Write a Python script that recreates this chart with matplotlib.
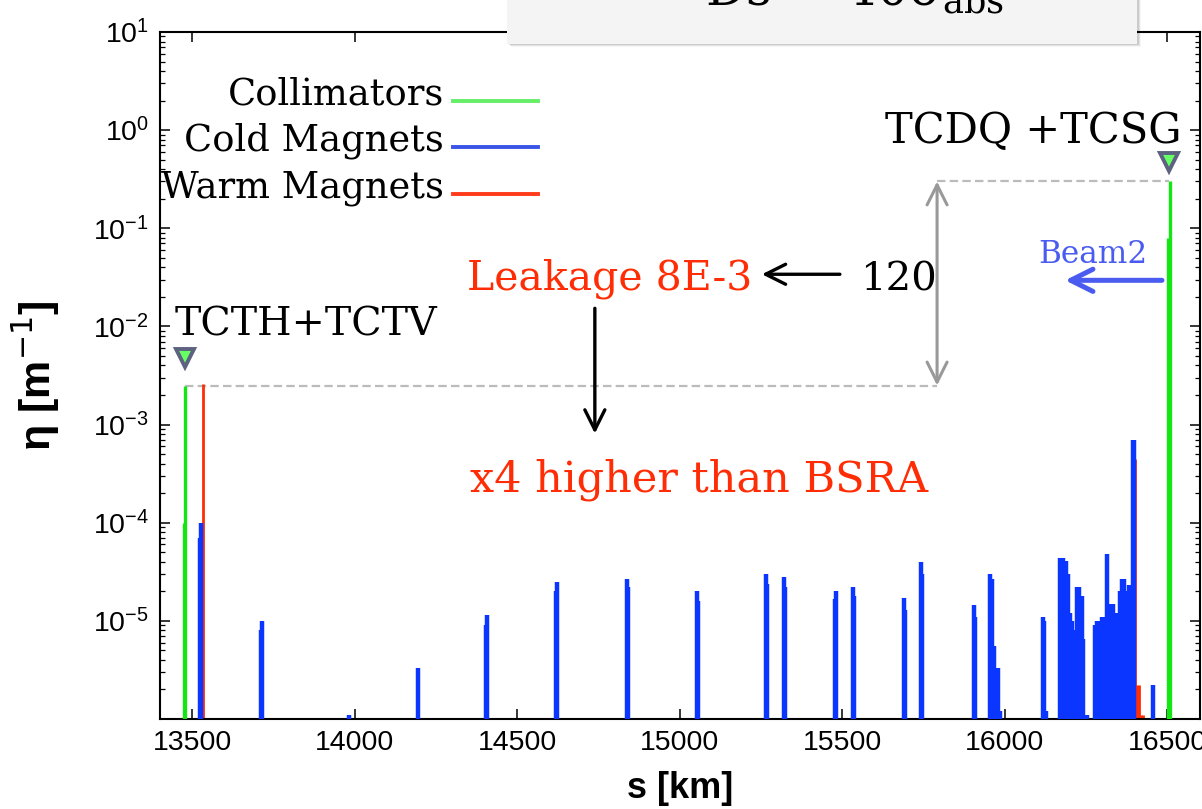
import numpy as np
import matplotlib
matplotlib.use('Agg')
import matplotlib.pyplot as plt
from matplotlib.lines import Line2D
from matplotlib.patches import Rectangle
from matplotlib.legend_handler import HandlerLine2D
from matplotlib.ticker import FixedLocator, LogLocator, NullFormatter, LogFormatterSciNotation

SANS = ['Liberation Sans', 'DejaVu Sans']
SERIF = ['DejaVu Serif']
plt.rcParams['font.family'] = SANS

# loss locations s [km] and local loss rate eta [1/m]
coll_s = [13474, 13478, 16502, 16507]
coll_eta = [1.0e-4, 2.5e-3, 8.0e-2, 3.0e-1]

warm_s = [13533, 16399, 16406, 16412, 16420, 16426]
warm_eta = [2.6e-3, 4.5e-4, 2.2e-6, 2.2e-6, 1.1e-6, 1.1e-6]

cold_s = [13523, 13527, 13712, 13715, 13981, 14194, 14404, 14407,
          14620, 14623, 14836, 14839, 15051, 15054, 15264, 15267,
          15319, 15322, 15478, 15481, 15531, 15534, 15690, 15693,
          15743, 15746, 15906, 15909, 15954, 15960, 15966, 15972,
          15978, 15984, 16116, 16121, 16127,
          16169, 16179, 16187, 16193, 16200, 16207, 16213, 16221,
          16229, 16236, 16241, 16246, 16253,
          16277, 16284, 16292, 16299, 16306, 16313, 16320, 16326,
          16333, 16341, 16347, 16354, 16361, 16367, 16374, 16382,
          16388, 16393, 16398, 16455]
cold_eta = [7e-5, 1.0e-4, 8e-6, 1.0e-5, 1.1e-6, 3.3e-6, 9e-6, 1.15e-5,
            2.0e-5, 2.5e-5, 2.7e-5, 2.2e-5, 2.0e-5, 1.6e-5, 3.0e-5, 2.4e-5,
            2.8e-5, 2.2e-5, 1.66e-5, 2.0e-5, 2.2e-5, 1.8e-5, 1.7e-5, 1.3e-5,
            4.0e-5, 3.0e-5, 1.45e-5, 1.1e-5, 3.0e-5, 2.7e-5, 5.6e-6, 3.3e-6,
            3.3e-6, 1.2e-6, 1.1e-5, 1.0e-5, 1.2e-6,
            4.4e-5, 4.4e-5, 4.1e-5, 3.0e-5, 1.2e-5, 1.0e-5, 8e-6, 2.2e-5,
            2.2e-5, 1.8e-5, 6.6e-6, 1.1e-6, 1.1e-6,
            9e-6, 1.0e-5, 1.0e-5, 1.1e-5, 1.1e-5, 4.8e-5, 1.5e-5, 1.2e-5,
            1.5e-5, 1.2e-5, 1.0e-5, 2.0e-5, 2.7e-5, 2.7e-5, 2.0e-5, 2.3e-5,
            2.3e-5, 7.0e-4, 7.0e-4, 2.2e-6]

legend_labels = ['Collimators', 'Cold Magnets', 'Warm Magnets']
x_ticks = [13500, 14000, 14500, 15000, 15500, 16000, 16500]
y_ticks = [1e-5, 1e-4, 1e-3, 1e-2, 1e-1, 1e0, 1e1]

# reference levels for the ratio annotation
tcdq_peak = 0.3
tcth_peak = 2.5e-3
marker_s = [13476, 16506]
marker_eta = [4.8e-3, 0.47]

GREEN = '#14e614'
BLUE = '#0a36ff'
RED = '#ff2d05'


class LowLine(HandlerLine2D):
    """legend line drawn a bit under the text centre"""
    def create_artists(self, legend, orig_handle, xdescent, ydescent,
                       width, height, fontsize, trans):
        arts = super().create_artists(legend, orig_handle, xdescent, ydescent,
                                      width, height, fontsize, trans)
        for a in arts:
            a.set_ydata(np.asarray(a.get_ydata()) - 0.24 * fontsize)
        return arts


fig = plt.figure(figsize=(12.02, 8.09), dpi=100)
ax = fig.add_axes([0.13311, 0.11125, 0.86522, 0.84920])
ax.set_yscale('log')
ax.set_xlim(13400, 16600)
ax.set_ylim(1e-6, 10)

base = 1e-9
ax.vlines(warm_s, base, warm_eta, color=RED, lw=2.0, zorder=2)
ax.vlines(cold_s, base, cold_eta, color=BLUE, lw=3.2, zorder=3)
ax.vlines(coll_s, base, coll_eta, color=GREEN, lw=2.4, zorder=4)

# dashed reference levels and ratio arrow
ax.plot([15791, marker_s[1]], [tcdq_peak, tcdq_peak], color='#bbbbbb',
        lw=1.6, ls=(0, (3.8, 1.9)), zorder=1)
ax.plot([marker_s[0], 15791], [tcth_peak, tcth_peak], color='#bbbbbb',
        lw=1.6, ls=(0, (3.8, 1.9)), zorder=1)
ax.annotate('', xy=(15791, tcdq_peak), xytext=(15791, tcth_peak),
            arrowprops=dict(arrowstyle='<->', color='#999999', lw=2.2,
                            mutation_scale=36, shrinkA=0, shrinkB=0))

ax.plot(marker_s, marker_eta, ls='none', marker='v', ms=13,
        mfc='#66ff66', mec='#5c6280', mew=2.8, zorder=6)

ax.text(16542, 0.736, 'TCDQ +TCSG', ha='right', va='baseline',
        fontsize=30, family=SERIF)
ax.text(13446, 8.1e-3, 'TCTH+TCTV', ha='left', va='baseline',
        fontsize=28.5, family=SERIF)
ax.text(14782, 0.0239, 'Leakage 8E-3', ha='center', va='baseline',
        fontsize=29.5, family=SERIF, color=RED)
ax.text(15058, 2.1e-4, 'x4 higher than BSRA', ha='center', va='baseline',
        fontsize=31, family=SERIF, color=RED)
ax.text(15671, 0.0233, '120', ha='center', va='baseline',
        fontsize=29, family=SERIF)
ax.text(16271, 0.044, 'Beam2', ha='center', va='baseline',
        fontsize=22.5, family=SERIF, color='#4a5cf0')

ax.annotate('', xy=(15252, 0.034), xytext=(15492, 0.034),
            arrowprops=dict(arrowstyle='->', color='k', lw=2.4,
                            mutation_scale=36, shrinkA=0, shrinkB=0))
ax.annotate('', xy=(14738, 8.1e-4), xytext=(14738, 0.0153),
            arrowprops=dict(arrowstyle='->', color='k', lw=2.4,
                            mutation_scale=36, shrinkA=0, shrinkB=0))
ax.annotate('', xy=(16185, 0.0295), xytext=(16483, 0.0295),
            arrowprops=dict(arrowstyle='->', color='#4a5cf0', lw=3.6,
                            mutation_scale=40, shrinkA=0, shrinkB=0))

# axes styling
ax.xaxis.set_major_locator(FixedLocator(x_ticks))
ax.yaxis.set_major_locator(FixedLocator(y_ticks))
ax.yaxis.set_major_formatter(LogFormatterSciNotation())
ax.yaxis.set_minor_locator(LogLocator(base=10, subs=range(2, 10), numticks=20))
ax.yaxis.set_minor_formatter(NullFormatter())
ax.tick_params(which='both', direction='in', top=True, right=True)
ax.tick_params(which='major', length=7, width=1.1, labelsize=20.5, pad=8)
ax.tick_params(which='minor', length=3.5, width=0.9)
for sp in ax.spines.values():
    sp.set_linewidth(1.5)

ax.set_xlabel('s [km]', fontsize=26, fontweight='bold')
ax.set_ylabel('η [m$^{-1}$]', fontsize=31, fontweight='bold')
ax.xaxis.set_label_coords(0.5, -0.076)
ax.yaxis.set_label_coords(-0.094, 0.5)

handles = [Line2D([], [], color=c, lw=2.8) for c in ['#66ee66', '#3a55e6', '#ff3b1a']]
ax.legend(handles, legend_labels, loc='upper right', bbox_to_anchor=(0.3635, 0.935),
          frameon=False, markerfirst=False, prop={'family': SERIF, 'size': 26.5},
          handlelength=2.3, handletextpad=0.25, labelspacing=0.28,
          borderpad=0, borderaxespad=0, handler_map={Line2D: LowLine()})

# title box, cut at the top of the figure
bx, bw, bh = 507 / 1202, 630 / 1202, 44 / 809
for k, a in enumerate([0.10, 0.07, 0.04]):
    fig.add_artist(Rectangle((bx + (k + 2) / 1202, 1 - bh - (k + 1) / 809), bw, bh + 0.02,
                             transform=fig.transFigure, facecolor='k', alpha=a,
                             edgecolor='none', zorder=5))
fig.add_artist(Rectangle((bx, 1 - bh), bw, bh + 0.02, transform=fig.transFigure,
                         facecolor='#f4f4f4', edgecolor='none', zorder=6))
fig.text(855 / 1202, 1 - 5 / 809, 'Ds = 40σ$_{\\mathdefault{abs}}$', ha='center',
         va='baseline', fontsize=36, family=SERIF, zorder=7)

fig.savefig('out.png', dpi=100)
